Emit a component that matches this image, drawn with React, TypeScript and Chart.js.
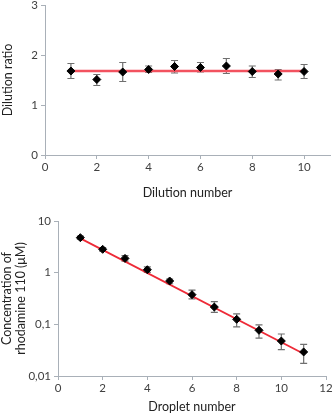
import React, { useEffect, useRef } from "react";
import { Chart, registerables } from "chart.js";

Chart.register(...registerables);

// Top chart: dilution ratio
const dilutionNumbers = [1, 2, 3, 4, 5, 6, 7, 8, 9, 10];
const dilutionRatio = [1.68, 1.51, 1.66, 1.71, 1.77, 1.75, 1.78, 1.67, 1.62, 1.67];
const dilutionHigh = [1.83, 1.61, 1.85, 1.78, 1.89, 1.85, 1.93, 1.78, 1.71, 1.81];
const dilutionLow = [1.53, 1.39, 1.47, 1.65, 1.64, 1.66, 1.63, 1.55, 1.5, 1.53];
const dilutionFitX = [1, 10];
const dilutionFitY = [1.68, 1.68];
const dilutionXTicks = [0, 2, 4, 6, 8, 10];
const dilutionYTicks = [0, 1, 2, 3];

// Bottom chart: concentration
const dropletNumbers = [1, 2, 3, 4, 5, 6, 7, 8, 9, 10, 11];
const concentration = [4.76, 2.83, 1.89, 1.14, 0.69, 0.375, 0.216, 0.125, 0.0766, 0.0475, 0.0292];
const concHigh = [5.1, 3.05, 2.13, 1.29, 0.754, 0.46, 0.275, 0.16, 0.098, 0.065, 0.041];
const concLow = [4.45, 2.62, 1.68, 1.01, 0.61, 0.31, 0.17, 0.089, 0.054, 0.0325, 0.0175];
const concFitX = [1, 11];
const concFitY = [4.6, 0.027];
const dropletXTicks = [0, 2, 4, 6, 8, 10, 12];
const concTicks = [0.01, 0.1, 1, 10];

const FONT = "Lato, 'Open Sans', sans-serif";
const TEXT = "#404040";
const AXIS = "#a9b0b8";

const errorBarPlugin = {
  id: "errorBars",
  beforeDatasetsDraw(chart: any) {
    const opts = chart.options.plugins.errorBars;
    if (!opts) return;
    const { ctx, scales } = chart;
    const xs = scales.x;
    const ys = scales.y;
    ctx.save();
    ctx.strokeStyle = "#6f6f6f";
    ctx.lineWidth = 1.2;
    opts.x.forEach((xv: number, i: number) => {
      const px = xs.getPixelForValue(xv);
      const ph = ys.getPixelForValue(opts.high[i]);
      const pl = ys.getPixelForValue(opts.low[i]);
      ctx.beginPath();
      ctx.moveTo(px, ph);
      ctx.lineTo(px, pl);
      ctx.moveTo(px - 3.5, ph);
      ctx.lineTo(px + 3.5, ph);
      ctx.moveTo(px - 3.5, pl);
      ctx.lineTo(px + 3.5, pl);
      ctx.stroke();
    });
    ctx.restore();
  },
};

const tickFont = { family: FONT, size: 11.5 };
const titleFont = { family: FONT, size: 12.5 };

function axisCommon() {
  return {
    grid: { display: true, drawOnChartArea: false, tickLength: 4, color: AXIS },
    border: { color: AXIS, width: 1 },
  };
}

function makeTop(canvas: HTMLCanvasElement) {
  return new Chart(canvas, {
    type: "scatter",
    data: {
      datasets: [
        {
          type: "line",
          data: dilutionFitX.map((x, i) => ({ x, y: dilutionFitY[i] })),
          borderColor: "#f2525f",
          borderWidth: 2.5,
          pointRadius: 0,
          order: 2,
        } as any,
        {
          data: dilutionNumbers.map((x, i) => ({ x, y: dilutionRatio[i] })),
          pointStyle: "rectRot",
          pointRadius: 4,
          backgroundColor: "#000",
          borderColor: "#000",
          order: 1,
        },
      ],
    },
    options: {
      animation: false,
      responsive: false,
      layout: { padding: { top: 5, right: 2, left: 0, bottom: 0 } },
      plugins: {
        legend: { display: false },
        tooltip: { enabled: false },
        errorBars: { x: dilutionNumbers, high: dilutionHigh, low: dilutionLow },
      } as any,
      scales: {
        x: {
          type: "linear",
          min: 0,
          max: 11,
          afterBuildTicks: (s: any) => {
            s.ticks = dilutionXTicks.map((v) => ({ value: v }));
          },
          ...axisCommon(),
          ticks: { color: TEXT, font: tickFont, padding: 1, maxRotation: 0 },
          title: {
            display: true,
            text: "Dilution number",
            color: "#222",
            font: titleFont,
            padding: { top: 6, bottom: 0 },
          },
          afterFit: (s: any) => {
            s.height = 45;
            s.paddingLeft = 0;
            s.paddingRight = 0;
          },
        },
        y: {
          type: "linear",
          min: 0,
          max: 3,
          afterBuildTicks: (s: any) => {
            s.ticks = dilutionYTicks.map((v) => ({ value: v }));
          },
          ...axisCommon(),
          ticks: { color: TEXT, font: tickFont, padding: 3 },
          title: {
            display: true,
            text: "Dilution ratio",
            color: "#222",
            font: titleFont,
            padding: { top: 0, bottom: 5 },
          },
          afterFit: (s: any) => {
            s.width = 45;
            s.paddingTop = 0;
            s.paddingBottom = 0;
          },
        },
      },
    } as any,
    plugins: [errorBarPlugin],
  });
}

function makeBottom(canvas: HTMLCanvasElement) {
  return new Chart(canvas, {
    type: "scatter",
    data: {
      datasets: [
        {
          type: "line",
          data: concFitX.map((x, i) => ({ x, y: concFitY[i] })),
          borderColor: "#ee2a37",
          borderWidth: 1.8,
          pointRadius: 0,
          order: 2,
        } as any,
        {
          data: dropletNumbers.map((x, i) => ({ x, y: concentration[i] })),
          pointStyle: "rectRot",
          pointRadius: 4,
          backgroundColor: "#000",
          borderColor: "#000",
          order: 1,
        },
      ],
    },
    options: {
      animation: false,
      responsive: false,
      layout: { padding: { top: 21, right: 9, left: 0, bottom: 0 } },
      plugins: {
        legend: { display: false },
        tooltip: { enabled: false },
        errorBars: { x: dropletNumbers, high: concHigh, low: concLow },
      } as any,
      scales: {
        x: {
          type: "linear",
          min: 0,
          max: 12,
          afterBuildTicks: (s: any) => {
            s.ticks = dropletXTicks.map((v) => ({ value: v }));
          },
          ...axisCommon(),
          ticks: { color: TEXT, font: tickFont, padding: 1, maxRotation: 0 },
          title: {
            display: true,
            text: "Droplet number",
            color: "#222",
            font: titleFont,
            padding: { top: 5, bottom: 0 },
          },
          afterFit: (s: any) => {
            s.height = 38;
            s.paddingLeft = 0;
            s.paddingRight = 0;
          },
        },
        y: {
          type: "logarithmic",
          min: 0.01,
          max: 10,
          afterBuildTicks: (s: any) => {
            s.ticks = concTicks.map((v) => ({ value: v }));
          },
          ...axisCommon(),
          ticks: {
            color: TEXT,
            font: tickFont,
            padding: 3,
            callback: (v: any) => String(v).replace(".", ","),
          },
          title: {
            display: true,
            text: ["Concentration of", "rhodamine 110 (μM)"],
            color: "#222",
            font: { ...titleFont, lineHeight: 1.1 },
            padding: { top: 0, bottom: 4 },
          },
          afterFit: (s: any) => {
            s.width = 58;
            s.paddingTop = 0;
            s.paddingBottom = 0;
          },
        },
      },
    } as any,
    plugins: [errorBarPlugin],
  });
}

export default function App() {
  const topRef = useRef<HTMLCanvasElement>(null);
  const botRef = useRef<HTMLCanvasElement>(null);
  useEffect(() => {
    document.body.style.margin = "0";
    const a = makeTop(topRef.current!);
    const b = makeBottom(botRef.current!);
    return () => {
      a.destroy();
      b.destroy();
    };
  }, []);
  return (
    <div style={{ position: "relative", width: 335, height: 414, background: "#fff" }}>
      <canvas ref={topRef} width={335} height={200} style={{ display: "block", width: 335, height: 200 }} />
      <canvas ref={botRef} width={335} height={214} style={{ display: "block", width: 335, height: 214 }} />
    </div>
  );
}
